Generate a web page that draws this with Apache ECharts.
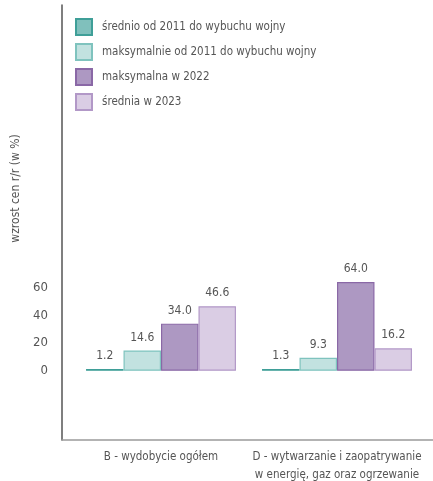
<!DOCTYPE html>
<html><head><meta charset="utf-8">
<script src="https://cdn.jsdelivr.net/npm/echarts@6/dist/echarts.min.js"></script>
<style>html,body{margin:0;padding:0;background:#fff}#c{width:433px;height:481px}</style>
</head><body><div id="c"></div>
<script>
const categories = ['B - wydobycie ogółem', 'D - wytwarzanie i zaopatrywanie\nw energię, gaz oraz ogrzewanie'];
const seriesNames = ['średnio od 2011 do wybuchu wojny', 'maksymalnie od 2011 do wybuchu wojny', 'maksymalna w 2022', 'średnia w 2023'];
const avgPrewar = [1.2, 1.3];
const maxPrewar = [14.6, 9.3];
const max2022 = [34.0, 64.0];
const avg2023 = [46.6, 16.2];
const yTickLabels = [0, 20, 40, 60];
const yAxisTitle = 'wzrost cen r/r (w %)';

const fills = ['#80c0bc', '#c2e2e0', '#ad98c2', '#dacde4'];
const borders = ['#3f9f98', '#7fc3be', '#8a68a6', '#b298c7'];
const values = [avgPrewar, maxPrewar, max2022, avg2023];
const FONT = '"DejaVu Sans Condensed", "Liberation Sans Narrow", sans-serif';

const chart = echarts.init(document.getElementById('c'), null, {renderer: 'canvas'});
chart.setOption({
  animation: false,
  textStyle: {fontFamily: FONT},
  legend: {
    orient: 'vertical', left: 70, top: 13, itemWidth: 16, itemHeight: 16, itemGap: 7,
    icon: 'rect',
    textStyle: {color: '#555', fontSize: 11.5, fontFamily: FONT, padding: [0, 0, 0, 5]},
    data: seriesNames
  },
  grid: [
    {left: 73, right: 8, top: 5, bottom: 41, outerBoundsMode: 'none', containLabel: false},
    {left: 62, right: 0, top: 5, bottom: 41, outerBoundsMode: 'none', containLabel: false}
  ],
  xAxis: [
    {type: 'category', gridIndex: 0, data: categories,
     axisLine: {show: false}, axisTick: {show: false},
     axisLabel: {interval: 0, color: '#555', fontSize: 11.5, fontFamily: FONT, margin: 8, lineHeight: 18}},
    {type: 'category', gridIndex: 1, data: [''],
     axisLine: {show: true, onZero: false, lineStyle: {color: '#9a9a9a', width: 1.5}}, axisTick: {show: false}, axisLabel: {show: false}}
  ],
  yAxis: [
    {type: 'value', gridIndex: 0, min: -50, max: 264, offset: 11,
     name: yAxisTitle, nameLocation: 'middle', nameRotate: 90, nameGap: 32,
     nameTextStyle: {color: '#555', fontSize: 12, fontFamily: FONT, padding: [0, 0, 0, 68]},
     axisLine: {show: true, lineStyle: {color: '#555', width: 1.5}},
     axisTick: {show: false},
     splitLine: {show: false},
     axisLabel: {customValues: yTickLabels, color: '#555', fontSize: 13, fontFamily: FONT, margin: 14}},
    {type: 'value', gridIndex: 1, min: -50, max: 264, show: false, splitLine: {show: false}}
  ],
  series: seriesNames.map((n, i) => ({
    name: n, type: 'bar', xAxisIndex: 0, yAxisIndex: 0,
    data: values[i],
    barGap: '0%', barCategoryGap: '14.8%',
    itemStyle: {color: fills[i], borderColor: borders[i], borderWidth: 1.2},
    label: {show: true, position: 'top', distance: 7, color: '#555', fontSize: 12, fontFamily: FONT,
            formatter: p => p.value.toFixed(1)}
  }))
});
</script></body></html>
